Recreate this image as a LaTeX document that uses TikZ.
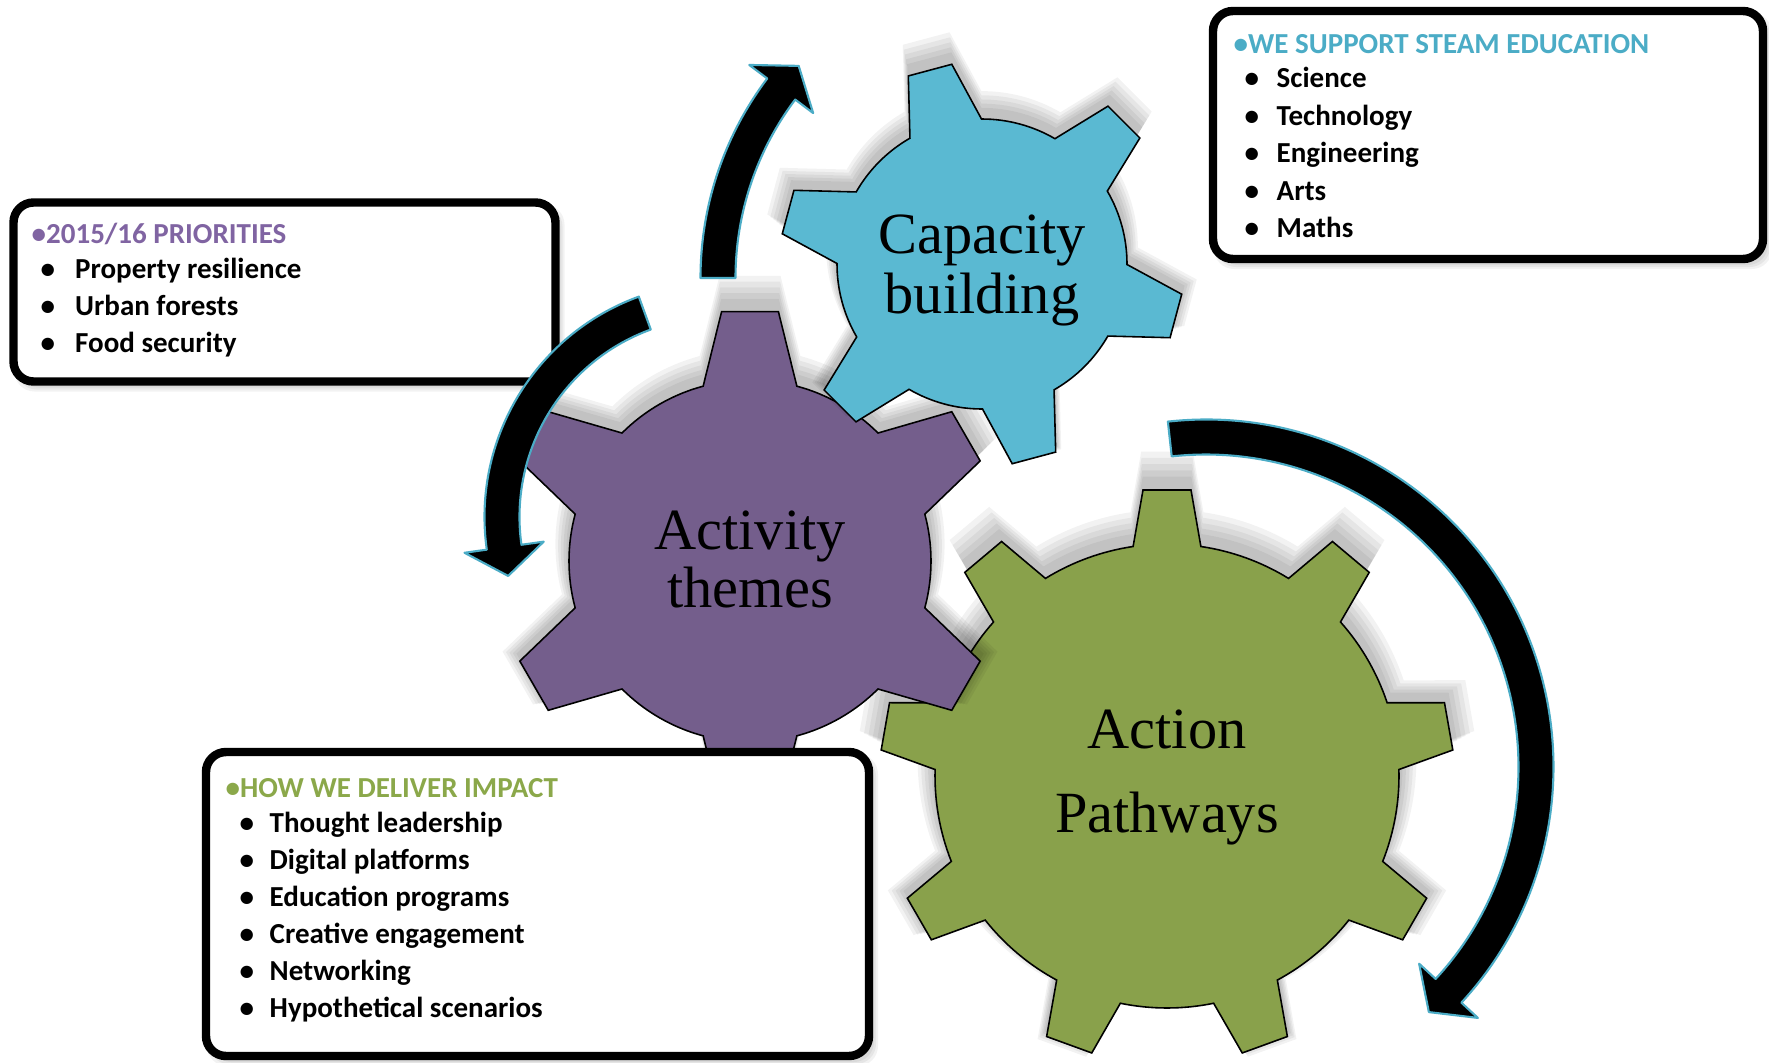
\documentclass[tikz,border=0pt]{standalone}
\usepackage{fontspec}
\setmainfont{Liberation Serif}
\newfontfamily\boxfont{Carlito}
\usetikzlibrary{calc}
\definecolor{gpurple}{RGB}{116,94,140}
\definecolor{gblue}{RGB}{90,185,210}
\definecolor{ggreen}{RGB}{137,161,75}
\definecolor{hpurple}{RGB}{128,100,162}
\definecolor{hblue}{RGB}{75,172,198}
\definecolor{hgreen}{RGB}{139,168,74}
\definecolor{arrowedge}{RGB}{75,172,198}

\tikzset{
  gearline/.style={draw=black, line width=0.45pt, line join=miter},
  gshadowthin/.style={fill=black, fill opacity=0.05},
  tbox/.style={draw=black, line width=2.4pt, fill=white, rounded corners=0.2cm},
  bshadow/.style={fill=black, fill opacity=0.05, rounded corners=0.2cm},
  carrow/.style={fill=black, draw=arrowedge, line width=0.6pt, line join=round},
  gtext/.style={inner sep=0pt, anchor=base, font=\fontsize{16.6}{20}\selectfont},
  listline/.style={inner sep=0pt, anchor=base west, font=\boxfont\bfseries\fontsize{8.25}{10}\selectfont},
}

% #1 cx, #2 cy, #3 teeth, #4 first tooth angle, #5 body radius, #6 tip radius,
% #7 half angle at base, #8 half angle at tip, #9 style
\newcommand{\gearshape}[9]{%
  \begin{scope}[shift={(#1,#2)}]
  \pgfmathsetmacro\gstep{360/#3}
  \pgfmathtruncatemacro\glast{#3-1}
  \path[#9] ({#4-#7}:#5)
    \foreach \k [evaluate=\k as \ga using #4+\k*\gstep,
                 evaluate=\k as \gb using #4+(\k+1)*\gstep-#7] in {0,...,\glast} {
      -- ({\ga-#7}:#5) -- ({\ga-#8}:#6) -- ({\ga+#8}:#6) -- ({\ga+#7}:#5)
      arc[start angle={\ga+#7}, end angle=\gb, radius=#5]
    } -- cycle;
  \end{scope}}

% soft shadow: several faint enlarged copies, raised a little
\newcommand{\gearshadow}[8]{%
  \foreach \sc/\dy in {1.015/9,1.03/11,1.045/13,1.06/15,1.075/17} {
    \pgfmathsetmacro\sb{#5*\sc}
    \pgfmathsetmacro\st{#6*\sc}
    \pgfmathsetmacro\sy{#2+\dy}
    \gearshape{#1}{\sy}{#3}{#4}{\sb}{\st}{#7}{#8}{gshadowthin}
  }}

% #1 cx, #2 cy, #3 mid radius, #4 start angle, #5 head angle, #6 sense (+1 ccw, -1 cw)
\newcommand{\ringarrow}[6]{%
  \begin{scope}[shift={(#1,#2)}]
  \pgfmathsetmacro\rout{#3+17.5}
  \pgfmathsetmacro\rin{#3-17.5}
  \pgfmathsetmacro\rbo{#3+40}
  \pgfmathsetmacro\rbi{#3-40}
  \pgfmathsetmacro\tipa{#5+#6*atan(29/#3)}
  \pgfmathsetmacro\tipr{100*sqrt((#3/100)^2+0.0841)}
  \filldraw[carrow] (#4:\rout) arc[start angle=#4, end angle=#5, radius=\rout]
     -- (#5:\rbo) -- (\tipa:\tipr) -- (#5:\rbi) -- (#5:\rin)
     arc[start angle=#5, end angle=#4, radius=\rin] -- cycle;
  \end{scope}}

% soft box shadow
\newcommand{\boxshadow}[4]{%
  \foreach \e in {0,2,4} {
    \fill[bshadow] ({#1+5-\e},{#2-6+\e}) rectangle ({#3+5+\e},{#4-6-\e});
  }}

\begin{document}
\begin{tikzpicture}[x=0.01cm,y=0.01cm]
\useasboundingbox (0,0) rectangle (1769,1062);
\fill[white] (0,0) rectangle (1769,1062);

% green gear
\gearshadow{1167}{286}{9}{90}{232}{287}{8.4}{4.8}
\gearshape{1167}{286}{9}{90}{232}{287}{8.4}{4.8}{gearline, fill=ggreen}
% purple gear
\gearshadow{750}{501}{6}{90}{181}{251}{15}{6.5}
\gearshape{750}{501}{6}{90}{181}{251}{15}{6.5}{gearline, fill=gpurple}
% blue gear
\gearshadow{982}{798}{6}{105}{145}{202}{14.8}{6.4}
\gearshape{982}{798}{6}{105}{145}{202}{14.8}{6.4}{gearline, fill=gblue}

% gear labels
\node[gtext] (cap1) at (982,809) {Capacity};
\node[gtext] (cap2) at (982,749) {building};
\node[gtext] (act1) at (750,513) {Activity};
\node[gtext] (act2) at (750,455) {themes};
\node[gtext] (ap1) at (1167,314) {Action};
\node[gtext] (ap2) at (1167,230) {Pathways};

% box 1
\boxshadow{13.5}{859.5}{555.5}{680.5}
\draw[tbox] (13.5,859.5) rectangle (555.5,680.5);
\node[listline, text=hpurple] (h1) at (31,819) {•2015/16 PRIORITIES};
\node[listline] (l1a) at (40,784) {\makebox[0.345cm][l]{•}Property resilience};
\node[listline] (l1b) at (40,747) {\makebox[0.345cm][l]{•}Urban forests};
\node[listline] (l1c) at (40,710) {\makebox[0.345cm][l]{•}Food security};

% box 2
\boxshadow{1213}{1051}{1763}{803}
\draw[tbox] (1213,1051) rectangle (1763,803);
\node[listline, text=hblue] (h2) at (1233,1009) {•WE SUPPORT STEAM EDUCATION};
\node[listline] (l2a) at (1244,974.5) {\makebox[0.32cm][l]{•}Science};
\node[listline] (l2b) at (1244,937) {\makebox[0.32cm][l]{•}Technology};
\node[listline] (l2c) at (1244,899.5) {\makebox[0.32cm][l]{•}Engineering};
\node[listline] (l2d) at (1244,862) {\makebox[0.32cm][l]{•}Arts};
\node[listline] (l2e) at (1244,824.5) {\makebox[0.32cm][l]{•}Maths};

% box 3
\boxshadow{206}{310}{869}{6}
\draw[tbox] (206,310) rectangle (869,6);
\node[listline, text=hgreen] (h3) at (225,265) {•HOW WE DELIVER IMPACT};
\node[listline] (l3a) at (239,230) {\makebox[0.30cm][l]{•}Thought leadership};
\node[listline] (l3b) at (239,193) {\makebox[0.30cm][l]{•}Digital platforms};
\node[listline] (l3c) at (239,156) {\makebox[0.30cm][l]{•}Education programs};
\node[listline] (l3d) at (239,119) {\makebox[0.30cm][l]{•}Creative engagement};
\node[listline] (l3e) at (239,82) {\makebox[0.30cm][l]{•}Networking};
\node[listline] (l3f) at (239,45) {\makebox[0.30cm][l]{•}Hypothetical scenarios};

% curved arrows
\ringarrow{1032}{784}{314}{180}{143}{-1}
\ringarrow{719}{545}{217}{110}{188}{1}
\ringarrow{1206}{295}{330}{96.3}{-42.7}{-1}
\end{tikzpicture}
\end{document}
